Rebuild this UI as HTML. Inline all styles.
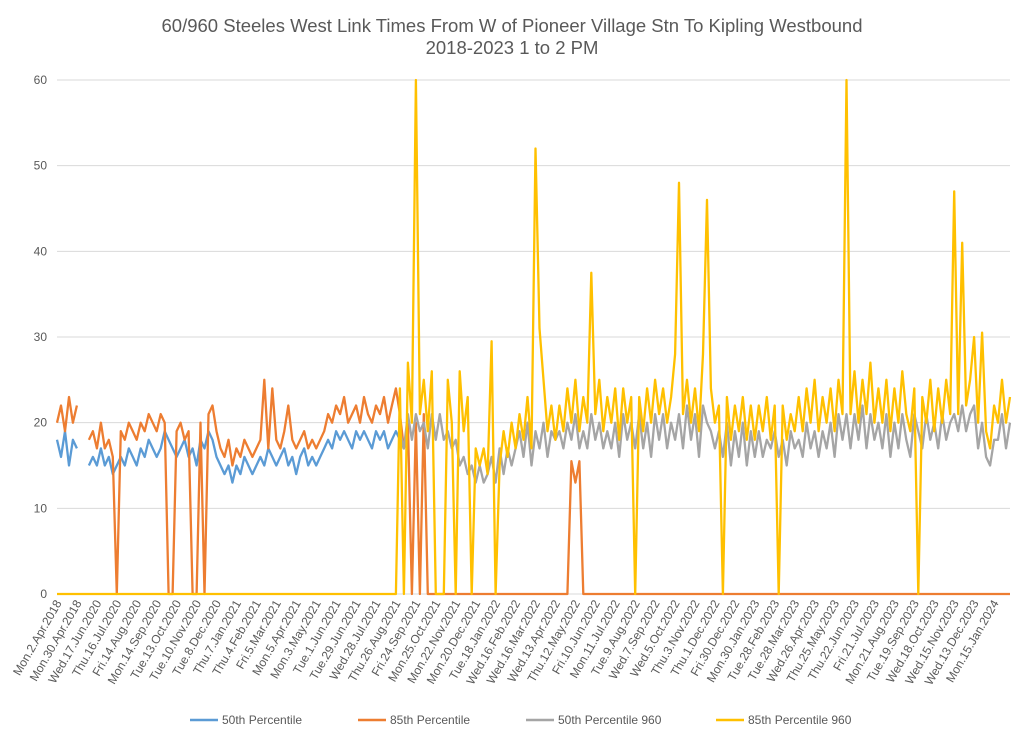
<!DOCTYPE html>
<html><head><meta charset="utf-8"><style>
body{margin:0;background:#fff;}
svg{display:block;font-family:"Liberation Sans",sans-serif;}
</style></head><body>
<svg id="chart" width="1024" height="741" viewBox="0 0 1024 741">
<rect width="1024" height="741" fill="#fff"/>
<text x="512" y="32" text-anchor="middle" font-size="18.5" fill="#595959">60/960 Steeles West Link Times From W of Pioneer Village Stn To Kipling Westbound</text>
<text x="512" y="54" text-anchor="middle" font-size="18.5" fill="#595959">2018-2023 1 to 2 PM</text>
<g id="grid"></g><g id="ylab"></g><g id="xlab"></g><g id="series"></g>
<g font-size="12" fill="#595959">
<g><line x1="190" y1="720" x2="218" y2="720" stroke="#5B9BD5" stroke-width="2.5"/><text x="222" y="724">50th Percentile</text></g>
<g><line x1="358" y1="720" x2="386" y2="720" stroke="#ED7D31" stroke-width="2.5"/><text x="390" y="724">85th Percentile</text></g>
<g><line x1="526" y1="720" x2="554" y2="720" stroke="#A5A5A5" stroke-width="2.5"/><text x="558" y="724">50th Percentile 960</text></g>
<g><line x1="716" y1="720" x2="744" y2="720" stroke="#FFC000" stroke-width="2.5"/><text x="748" y="724">85th Percentile 960</text></g>
</g>
</svg>
<script>
const yTicks=[0,10,20,30,40,50,60];
const xLabels=["Mon.2.Apr.2018","Mon.30.Apr.2018","Wed.17.Jun.2020","Thu.16.Jul.2020","Fri.14.Aug.2020","Mon.14.Sep.2020","Tue.13.Oct.2020","Tue.10.Nov.2020","Tue.8.Dec.2020","Thu.7.Jan.2021","Thu.4.Feb.2021","Fri.5.Mar.2021","Mon.5.Apr.2021","Mon.3.May.2021","Tue.1.Jun.2021","Tue.29.Jun.2021","Wed.28.Jul.2021","Thu.26.Aug.2021","Fri.24.Sep.2021","Mon.25.Oct.2021","Mon.22.Nov.2021","Mon.20.Dec.2021","Tue.18.Jan.2022","Wed.16.Feb.2022","Wed.16.Mar.2022","Wed.13.Apr.2022","Thu.12.May.2022","Fri.10.Jun.2022","Mon.11.Jul.2022","Tue.9.Aug.2022","Wed.7.Sep.2022","Wed.5.Oct.2022","Thu.3.Nov.2022","Thu.1.Dec.2022","Fri.30.Dec.2022","Mon.30.Jan.2023","Tue.28.Feb.2023","Tue.28.Mar.2023","Wed.26.Apr.2023","Thu.25.May.2023","Thu.22.Jun.2023","Fri.21.Jul.2023","Mon.21.Aug.2023","Tue.19.Sep.2023","Wed.18.Oct.2023","Wed.15.Nov.2023","Wed.13.Dec.2023","Mon.15.Jan.2024"];
const blue=[18,16,19,15,18,17,null,null,
15,16,15,17,15,16,14,15,16,15,17,16,15,
17,16,18,17,16,17,19,18,17,16,
17,18,16,17,15,18,17,19,18,16,
15,14,15,13,15,14,16,15,14,15,
16,15,17,16,15,16,17,15,16,14,
16,17,15,16,15,16,17,18,17,19,
18,19,18,17,19,18,19,18,17,19,
18,19,17,18,19,18,17,19];
const orangeEarly=[20,22,19,23,20,22,null,null,
18,19,17,20,17,18,16,0,19,18,20,19,18,
20,19,21,20,19,21,20,0,0,19,
20,18,19,0,0,20,0,21,22,19,
17,16,18,15,17,16,18,17,16,17,
18,25,17,24,18,17,19,22,18,17,
18,19,17,18,17,18,19,21,20,22,
21,23,20,21,22,20,23,21,20,22,
21,23,20,22,24,21,17,20];
const orangeLate=[0,20,0,21,0,0,0,0,0,0,
0,0,0,0,0,0,0,0,0,0,0,0,0,0,0,0,0,0,0,0,
0,0,0,0,0,0,0,0,0,0,
15.5,13,15.5,
0,0,0,0,0,0,0,0,0,0,0,0,0,0,0,0,0,0,0,0,
0,0,0,0,0,0,0,0,0,0,0,0,0,0,0,0,0,0,0,0,
0,0,0,0,0,0,0,0,0,0,0,0,0,0,0,0,0,0,0,0,
0,0,0,0,0,0,0,0,0,0,0,0,0,0,0,0,0,0,0,0,
0,0,0,0,0,0,0,0,0,0,0,0,0,0,0,0,0,0,0,0,
0,0,0,0,0,0,0,0];
const yellowStart=86;
const yellowPre=[0,0,0,0,0,0,0,0,0,0,0,0,0,0,0,0,0,0,0,0,0,0,0,0,0,0,0,0,0,0,0,0,0,0,0,0,0,0,0,0,0,0,0,0,0,0,0,0,0,0,0,0,0,0,0,0,0,0,0,0,0,0,0,0,0,0,0,0,0,0,0,0,0,0,0,0,0,0,0,0,0,0,0,0,0,0];
const yellow=[24,0,27,20,60,21,25,19,26,0,
0,0,25,20,0,26,19,23,0,17,
15,17,14,29.5,0,15,19,16,20,17,
21,18,23,17,52,31,25,19,22,18,
22,19,24,20,25,19,23,20,37.5,21,
25,19,23,20,24,18,24,20,23,0,
23,19,24,20,25,21,24,20,23,28,
48,21,25,20,24,19,28,46,24,20,
22,0,23,18,22,19,23,18,22,18,
22,19,23,18,22,0,22,18,21,19,
23,19,24,20,25,19,23,20,24,19,
25,21,60,21,26,20,25,21,27,20,
24,20,25,19,24,20,26,21,19,24,
0,23,20,25,19,24,20,25,21,47,
21,41,22,25,30,20,30.5,19,17,22,
20,25,20,23];
const grey=[19,17,21,18,21,19,20,17,21,18,
21,18,19,17,18,15,16,14,15,13,
15,13,14,16,13,17,14,17,15,17,
19,16,20,15,19,17,20,16,19,18,
19,17,20,18,21,17,19,17,21,18,
20,17,19,17,20,16,21,18,20,17,
21,17,20,16,21,18,21,17,20,18,
21,17,22,18,21,16,22,20,19,17,
19,16,20,15,19,16,20,15,19,16,
19,16,18,17,19,16,18,15,19,17,
18,16,20,17,19,16,19,17,20,16,
21,18,21,17,21,18,22,17,21,18,
20,17,21,16,20,17,21,18,16,21,
19,17,21,18,20,17,21,18,20,21,
19,22,19,21,22,17,20,16,15,18,
18,21,17,20];

const N=240, X0=57, X1=1010, Y0=594, YTOP=80, VMAX=60;
const xs=i=>X0+i*(X1-X0)/(N-1);
const ys=v=>Y0-v*(Y0-YTOP)/VMAX;
const NS="http://www.w3.org/2000/svg";
function mk(tag,attrs,parent){const e=document.createElementNS(NS,tag);for(const k in attrs)e.setAttribute(k,attrs[k]);parent.appendChild(e);return e;}
const grid=document.getElementById('grid'),ylab=document.getElementById('ylab'),xlab=document.getElementById('xlab'),ser=document.getElementById('series');
yTicks.forEach(t=>{
  const l=mk('line',{x1:X0,x2:X1,y1:ys(t),y2:ys(t),stroke:'#D9D9D9','stroke-width':1},grid);
  
  
  const tx=mk('text',{x:47,y:ys(t)+4,'text-anchor':'end','font-size':12,fill:'#595959'},ylab);
  tx.textContent=t;
  
  
});
xLabels.forEach((s,k)=>{
  const x=xs(k*5)+5, y=603;
  const tx=mk('text',{x:x,y:y,'text-anchor':'end','font-size':12,fill:'#595959',transform:`rotate(-60 ${x} ${y})`},xlab);
  tx.textContent=s;
  
  
});
function drawLine(vals,start,color,name){
  let d='',pen=false;
  vals.forEach((v,j)=>{
    if(v===null){pen=false;return;}
    d+=(pen?'L':'M')+xs(start+j).toFixed(1)+' '+ys(v).toFixed(1);pen=true;
  });
  const p=mk('path',{d:d,fill:'none',stroke:color,'stroke-width':2.3,'stroke-linejoin':'round'},ser);
  
  
}
drawLine(blue,0,'#5B9BD5','series-50th-percentile');
drawLine(orangeEarly.concat(orangeLate),0,'#ED7D31','series-85th-percentile');
drawLine(grey,yellowStart,'#A5A5A5','series-50th-percentile-960');
drawLine(yellowPre.concat(yellow),0,'#FFC000','series-85th-percentile-960');
</script>
</body></html>
